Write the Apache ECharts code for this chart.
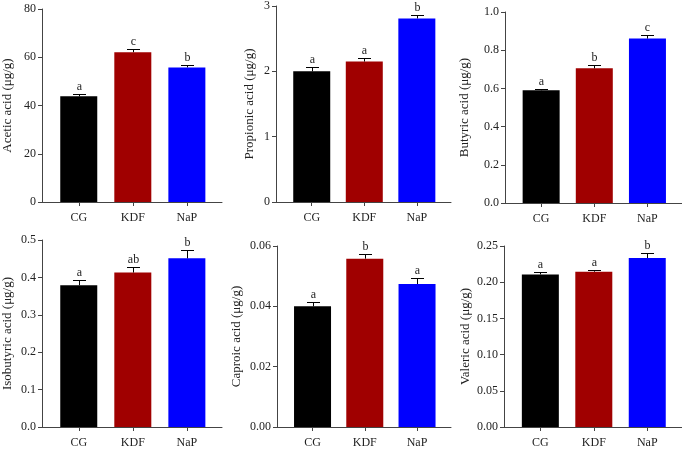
<!DOCTYPE html>
<html>
<head>
<meta charset="utf-8">
<script src="https://cdn.jsdelivr.net/npm/echarts@6/dist/echarts.min.js"></script>
<style>
  html, body { margin: 0; padding: 0; background: #fff; }
  #main { width: 682px; height: 449px; }
</style>
</head>
<body>
<div id="main"></div>
<script>
// groups and colours
const groups = ['CG', 'KDF', 'NaP'];
const barColors = ['#000000', '#a00000', '#0000ff'];

// means, SEM, significance letters for each acid
const acetic = [43.8, 62.1, 55.8];
const aceticErr = [1.0, 1.4, 0.8];
const aceticSig = ['a', 'c', 'b'];

const propionic = [2.0, 2.15, 2.81];
const propionicErr = [0.065, 0.06, 0.055];
const propionicSig = ['a', 'a', 'b'];

const butyric = [0.59, 0.705, 0.861];
const butyricErr = [0.007, 0.02, 0.02];
const butyricSig = ['a', 'b', 'c'];

const isobutyric = [0.379, 0.413, 0.451];
const isobutyricErr = [0.013, 0.014, 0.021];
const isobutyricSig = ['a', 'ab', 'b'];

const caproic = [0.040, 0.0558, 0.0474];
const caproicErr = [0.0015, 0.0016, 0.0021];
const caproicSig = ['a', 'b', 'a'];

const valeric = [0.2108, 0.2145, 0.2334];
const valericErr = [0.003, 0.0022, 0.0063];
const valericSig = ['a', 'a', 'b'];

// y axis ticks
const yMaxes = [80, 3, 1.0, 0.5, 0.06, 0.25];
const ySteps = [20, 1, 0.2, 0.1, 0.02, 0.05];
const yDecimals = [0, 0, 1, 1, 2, 2];

const panels = [
    { title: 'Acetic acid (μg/g)', vals: acetic, errs: aceticErr, sig: aceticSig },
    { title: 'Propionic acid (μg/g)', vals: propionic, errs: propionicErr, sig: propionicSig },
    { title: 'Butyric acid (μg/g)', vals: butyric, errs: butyricErr, sig: butyricSig },
    { title: 'Isobutyric acid (μg/g)', vals: isobutyric, errs: isobutyricErr, sig: isobutyricSig },
    { title: 'Caproic acid (μg/g)', vals: caproic, errs: caproicErr, sig: caproicSig },
    { title: 'Valeric acid (μg/g)', vals: valeric, errs: valericErr, sig: valericSig }
];

// grid boxes in px
const grids = [
    { left: 42, top: 9, width: 180, height: 193 },
    { left: 276, top: 5, width: 175, height: 197 },
    { left: 505, top: 12, width: 177, height: 191 },
    { left: 42, top: 240, width: 180, height: 190 },
    { left: 277, top: 246, width: 174, height: 185 },
    { left: 504, top: 246, width: 178, height: 185 }
];
const nameGaps = [28, 20, 34, 28, 34, 32];

const FONT = '"Liberation Serif", "DejaVu Serif", serif';
const AXIS_COLOR = '#444';
const TEXT_COLOR = '#222';

const chart = echarts.init(document.getElementById('main'));

const xAxis = [], yAxis = [], series = [];
panels.forEach((p, i) => {
    xAxis.push({
        type: 'value',
        gridIndex: i,
        min: -0.68,
        max: 2.65,
        splitLine: { show: false },
        axisLine: { show: true, onZero: false, lineStyle: { color: AXIS_COLOR, width: 1 } },
        axisTick: { show: true, length: 4, customValues: [0, 1, 2], lineStyle: { color: AXIS_COLOR } },
        axisLabel: {
            customValues: [0, 1, 2],
            formatter: v => groups[Math.round(v)],
            margin: 10,
            fontFamily: FONT,
            fontSize: 12,
            color: TEXT_COLOR
        }
    });
    yAxis.push({
        type: 'value',
        gridIndex: i,
        min: 0,
        max: yMaxes[i],
        interval: ySteps[i],
        name: p.title,
        nameLocation: 'middle',
        nameGap: nameGaps[i],
        nameTextStyle: { fontFamily: FONT, fontSize: 13, color: TEXT_COLOR },
        splitLine: { show: false },
        axisLine: { show: true, onZero: false, lineStyle: { color: AXIS_COLOR, width: 1 } },
        axisTick: { show: true, length: 4, lineStyle: { color: AXIS_COLOR } },
        axisLabel: {
            formatter: v => v.toFixed(yDecimals[i]),
            margin: 6,
            fontFamily: FONT,
            fontSize: 12,
            color: TEXT_COLOR
        }
    });
    series.push({
        type: 'bar',
        xAxisIndex: i,
        yAxisIndex: i,
        barWidth: 37,
        data: p.vals.map((v, k) => ({ value: [k, v], itemStyle: { color: barColors[k] } })),
        animation: false
    });
    series.push({
        type: 'custom',
        xAxisIndex: i,
        yAxisIndex: i,
        data: p.vals.map((v, k) => [k, v, p.errs[k]]),
        renderItem: (params, api) => {
            const x = api.value(0), m = api.value(1), e = api.value(2);
            const base = api.coord([x, m]);
            const top = api.coord([x, m + e]);
            const cx = Math.round(base[0]) + 0.5;
            const ty = Math.round(top[1]) + 0.5;
            const st = { stroke: '#000', lineWidth: 1 };
            return {
                type: 'group',
                children: [
                    { type: 'line', shape: { x1: cx, y1: base[1], x2: cx, y2: ty }, style: st },
                    { type: 'line', shape: { x1: cx - 6.5, y1: ty, x2: cx + 6.5, y2: ty }, style: st },
                    {
                        type: 'text',
                        x: cx,
                        y: ty - 2,
                        style: {
                            text: p.sig[params.dataIndex],
                            align: 'center',
                            verticalAlign: 'bottom',
                            fontFamily: FONT,
                            fontSize: 12,
                            fill: TEXT_COLOR
                        }
                    }
                ]
            };
        },
        z: 5,
        animation: false
    });
});

chart.setOption({
    backgroundColor: '#fff',
    animation: false,
    grid: grids,
    xAxis: xAxis,
    yAxis: yAxis,
    series: series
});
</script>
</body>
</html>
